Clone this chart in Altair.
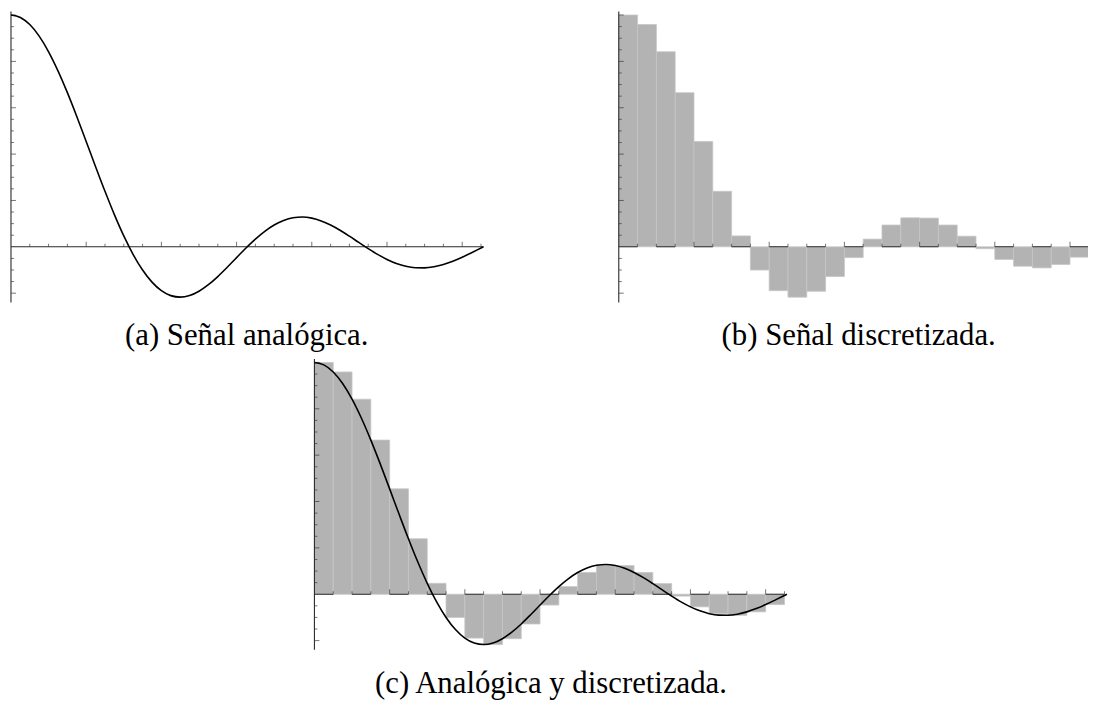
import altair as alt
import pandas as pd

# ---- data ----
T_CURVE = [0, 0.25, 0.5, 0.75, 1.0, 1.25, 1.5, 1.75, 2.0, 2.25, 2.5, 2.75, 3.0, 3.25, 3.5, 3.75,
           4.0, 4.25, 4.5, 4.75, 5.0, 5.25, 5.5, 5.75, 6.0, 6.25, 6.5, 6.75, 7.0, 7.25, 7.5, 7.75,
           8.0, 8.25, 8.5, 8.75, 9.0, 9.25, 9.5, 9.75, 10.0, 10.25, 10.5, 10.75, 11.0, 11.25, 11.5,
           11.75, 12.0, 12.25, 12.5, 12.566]
Y_CURVE = [1.0, 0.9896, 0.9589, 0.9089, 0.8415, 0.7592, 0.6650, 0.5623, 0.4546, 0.3458, 0.2394,
           0.1388, 0.0470, -0.0333, -0.1002, -0.1524, -0.1892, -0.2106, -0.2172, -0.2104, -0.1918,
           -0.1636, -0.1283, -0.0884, -0.0466, -0.0053, 0.0331, 0.0667, 0.0939, 0.1135, 0.1251,
           0.1283, 0.1237, 0.1118, 0.0939, 0.0714, 0.0458, 0.0188, -0.0079, -0.0328, -0.0544,
           -0.0717, -0.0838, -0.0902, -0.0909, -0.0860, -0.0761, -0.0620, -0.0447, -0.0254,
           -0.0053, 0.0]

T_BARS = [0, 0.5, 1.0, 1.5, 2.0, 2.5, 3.0, 3.5, 4.0, 4.5, 5.0, 5.5, 6.0, 6.5, 7.0, 7.5, 8.0,
          8.5, 9.0, 9.5, 10.0, 10.5, 11.0, 11.5, 12.0]
T_BARS_END = [0.5, 1.0, 1.5, 2.0, 2.5, 3.0, 3.5, 4.0, 4.5, 5.0, 5.5, 6.0, 6.5, 7.0, 7.5, 8.0,
              8.5, 9.0, 9.5, 10.0, 10.5, 11.0, 11.5, 12.0, 12.5]
Y_BARS = [1.0, 0.9589, 0.8415, 0.6650, 0.4546, 0.2394, 0.0470, -0.1002, -0.1892, -0.2172,
          -0.1918, -0.1283, -0.0466, 0.0331, 0.0939, 0.1251, 0.1237, 0.0939, 0.0458, -0.0079,
          -0.0544, -0.0838, -0.0909, -0.0761, -0.0447]

X_MAX = 12.566
X_MAJOR = [2, 4, 6, 8, 10, 12]
X_MINOR = [0.5, 1, 1.5, 2.5, 3, 3.5, 4.5, 5, 5.5, 6.5, 7, 7.5, 8.5, 9, 9.5, 10.5, 11, 11.5, 12.5]
Y_MAJOR = [-0.2, 0.2, 0.4, 0.6, 0.8, 1.0]
Y_MINOR = [-0.15, -0.1, -0.05, 0.05, 0.1, 0.15, 0.25, 0.3, 0.35, 0.45, 0.5, 0.55, 0.65, 0.7,
           0.75, 0.85, 0.9, 0.95]
Y_AXIS_LOW, Y_AXIS_HIGH = -0.24, 1.015

CAPTIONS = ["(a) Señal analógica.", "(b) Señal discretizada.", "(c) Analógica y discretizada."]

curve_df = pd.DataFrame({"t": T_CURVE, "v": Y_CURVE})
bars_df = pd.DataFrame({"t": T_BARS, "t2": T_BARS_END, "v": Y_BARS})
xmaj_df = pd.DataFrame({"t": X_MAJOR})
xmin_df = pd.DataFrame({"t": X_MINOR})
ymaj_df = pd.DataFrame({"v": Y_MAJOR})
ymin_df = pd.DataFrame({"v": Y_MINOR})

AXIS_COLOR = "#2a2a2a"
TICK_COLOR = "#3a3a3a"
BAR_FILL = "#b3b3b3"
HALF = 0.5 * 476 / X_MAX  # pixel length of half a unit, for the axis dash


def panel(x0, zero, one, curve=True, bars=False):
    xs = alt.Scale(domain=[0, X_MAX], range=[x0, x0 + 476], zero=False, nice=False)
    ys = alt.Scale(domain=[0, 1], range=[zero, one], zero=False, nice=False)
    layers = []
    if bars:
        layers.append(
            alt.Chart(bars_df).mark_rect(fill=BAR_FILL, stroke="#c6c6c6", strokeWidth=0.8).encode(
                x=alt.X("t:Q", scale=xs, axis=None), x2="t2:Q",
                y=alt.Y("v:Q", scale=ys, axis=None), y2=alt.datum(0))
        )
    base_axis = alt.Chart(pd.DataFrame({"a": [0]}))
    xaxis_mark = dict(color=AXIS_COLOR, strokeWidth=1.1)
    if bars:
        xaxis_mark["strokeDash"] = [HALF, HALF]
    layers.append(base_axis.mark_rule(**xaxis_mark).encode(
        x=alt.X(datum=0, scale=xs), x2=alt.datum(X_MAX), y=alt.Y(datum=0, scale=ys)))
    layers.append(base_axis.mark_rule(color=AXIS_COLOR, strokeWidth=1.1).encode(
        x=alt.X(datum=0, scale=xs), y=alt.Y(datum=Y_AXIS_LOW, scale=ys), y2=alt.datum(Y_AXIS_HIGH)))
    layers.append(alt.Chart(xmaj_df).mark_tick(orient="vertical", size=5, thickness=1, yOffset=-2.5,
                                               color=TICK_COLOR).encode(
        x=alt.X("t:Q", scale=xs, axis=None), y=alt.Y(datum=0, scale=ys)))
    layers.append(alt.Chart(xmin_df).mark_tick(orient="vertical", size=3, thickness=1, yOffset=-1.5,
                                               color=TICK_COLOR).encode(
        x=alt.X("t:Q", scale=xs, axis=None), y=alt.Y(datum=0, scale=ys)))
    layers.append(alt.Chart(ymaj_df).mark_tick(orient="horizontal", size=5, thickness=1, xOffset=2.5,
                                               color=TICK_COLOR).encode(
        y=alt.Y("v:Q", scale=ys, axis=None), x=alt.X(datum=0, scale=xs)))
    layers.append(alt.Chart(ymin_df).mark_tick(orient="horizontal", size=3, thickness=1, xOffset=1.5,
                                               color=TICK_COLOR).encode(
        y=alt.Y("v:Q", scale=ys, axis=None), x=alt.X(datum=0, scale=xs)))
    if curve:
        layers.append(alt.Chart(curve_df).mark_line(color="black", strokeWidth=1.6,
                                                    interpolate="monotone").encode(
            x=alt.X("t:Q", scale=xs, axis=None), y=alt.Y("v:Q", scale=ys, axis=None)))
    return alt.layer(*layers)


def caption(text, cx, cy):
    return alt.Chart(pd.DataFrame({"c": [text]})).mark_text(
        font="Liberation Serif", fontSize=31, align="center", baseline="alphabetic",
        color="black").encode(text="c:N", x=alt.value(cx), y=alt.value(cy))


pa = panel(3, 238, 4.5, curve=True, bars=False)
pb = panel(615.3, 238, 4.5, curve=False, bars=True)
pc = panel(308.7, 588, 354.5, curve=True, bars=True)

chart = alt.layer(
    pa, pb, pc,
    caption(CAPTIONS[0], 240.5, 337),
    caption(CAPTIONS[1], 857, 337),
    caption(CAPTIONS[2], 547, 687),
).resolve_scale(x="independent", y="independent").properties(
    width=1088, height=696, padding=0, autosize="none"
).configure_view(stroke=None).configure_axis(disable=True)

chart.save("out.html", embed_options={"renderer": "svg", "actions": False})
